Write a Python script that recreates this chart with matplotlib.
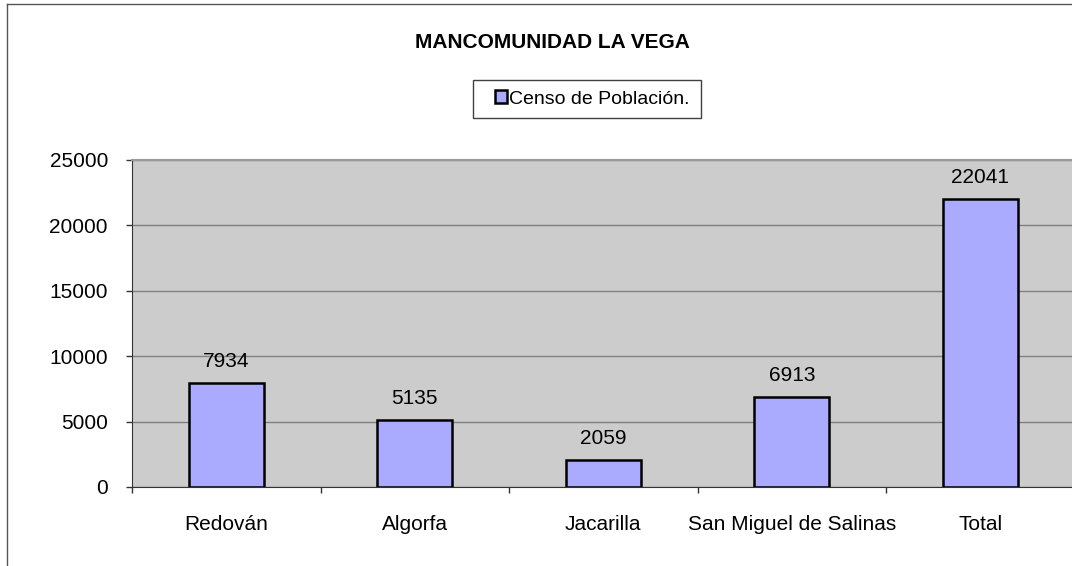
import matplotlib.pyplot as plt
import matplotlib.patches as mpatches
from matplotlib.legend_handler import HandlerPatch
from matplotlib.lines import Line2D

plt.rcParams['font.family'] = ['Liberation Sans', 'DejaVu Sans']

# Datos del gráfico
municipios = ["Redován", "Algorfa", "Jacarilla", "San Miguel de Salinas", "Total"]
poblacion = [7934, 5135, 2059, 6913, 22041]
titulo = "MANCOMUNIDAD LA VEGA"
serie = "Censo de Población."
y_ticks = [0, 5000, 10000, 15000, 20000, 25000]

W, H = 1072, 566
fig = plt.figure(figsize=(W / 100, H / 100), dpi=100)
fig.patch.set_facecolor('white')

# Marco exterior del gráfico (se corta a la derecha y abajo)
fig.add_artist(Line2D([6.5 / W, 6.5 / W], [0, 1 - 3.5 / H], transform=fig.transFigure,
                      color='#555555', linewidth=1))
fig.add_artist(Line2D([6.5 / W, 1], [1 - 3.5 / H, 1 - 3.5 / H], transform=fig.transFigure,
                      color='#555555', linewidth=1))

ax = fig.add_axes([132 / W, (H - 487) / H, (1074.5 - 132) / W, (487 - 160) / H])
ax.set_facecolor('#CCCCCC')

x = list(range(len(municipios)))
barras = ax.bar(x, poblacion, width=0.4, color='#AAAAFF', edgecolor='black',
                linewidth=1.8, zorder=3, label=serie)

# Etiquetas de valores encima de las barras
for rect, valor in zip(barras, poblacion):
    ax.annotate(f'{valor}', (rect.get_x() + rect.get_width() / 2, rect.get_height()),
                xytext=(0, 11.5), textcoords='offset points', ha='center', va='baseline',
                fontsize=15, color='black')

ax.set_xlim(-0.5, len(municipios) - 0.5)
ax.set_ylim(0, 25000)

ax.set_yticks(y_ticks)
ax.set_yticklabels([str(v) for v in y_ticks])
ax.tick_params(axis='y', direction='out', length=4.3, width=1, color='#333333',
               pad=13, labelsize=15)

ax.set_xticks(x)
ax.set_xticklabels(municipios)
ax.set_xticks([i - 0.5 for i in range(len(municipios) + 1)], minor=True)
ax.tick_params(axis='x', which='major', length=0, pad=20, labelsize=15)
ax.tick_params(axis='x', which='minor', direction='out', length=4.3, width=1, color='#333333')

# Grilla horizontal
ax.yaxis.grid(True, color='#808080', linewidth=1, zorder=1)
ax.set_axisbelow(True)

ax.spines['left'].set_color('#333333')
ax.spines['bottom'].set_color('#333333')
ax.spines['top'].set_color('#999999')
ax.spines['top'].set_linewidth(1.5)
ax.spines['right'].set_visible(False)

fig.text(552 / W, 1 - 43 / H, titulo, ha='center', va='center',
         fontsize=15, fontweight='bold')


def cuadrado(legend, orig_handle, xdescent, ydescent, width, height, fontsize):
    return mpatches.Rectangle((-xdescent + width - height, -ydescent), height, height)


leg = fig.legend(handles=[barras[0]], labels=[serie], loc='center',
                 bbox_to_anchor=(587 / W, 1 - 99 / H), fontsize=14,
                 handlelength=1.2, handleheight=0.62, handletextpad=0.1,
                 borderpad=0.55, fancybox=False, framealpha=1,
                 edgecolor='#404040',
                 handler_map={type(barras[0]): HandlerPatch(patch_func=cuadrado)})
leg.get_frame().set_linewidth(1)

fig.savefig('out.png', dpi=100)
